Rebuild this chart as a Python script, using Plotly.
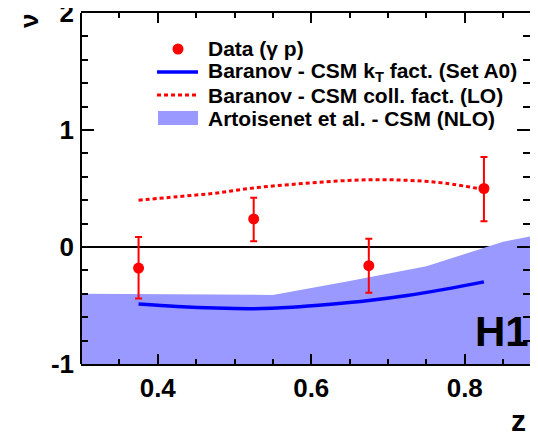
import plotly.graph_objects as go

# ---- data ----
z_data = [0.375, 0.525, 0.675, 0.825]
nu_data = [-0.18, 0.24, -0.16, 0.50]
nu_err_up = [0.265, 0.18, 0.23, 0.27]
nu_err_dn = [0.26, 0.19, 0.23, 0.28]

z_kt = [0.375, 0.425, 0.475, 0.525, 0.575, 0.625, 0.675, 0.725, 0.775, 0.825]
nu_kt = [-0.487, -0.508, -0.522, -0.527, -0.515, -0.49, -0.458, -0.415, -0.36, -0.298]

z_lo = [0.375, 0.425, 0.475, 0.525, 0.575, 0.625, 0.675, 0.725, 0.775, 0.825]
nu_lo = [0.40, 0.43, 0.46, 0.505, 0.535, 0.56, 0.575, 0.57, 0.545, 0.49]

z_band = [0.3, 0.45, 0.55, 0.65, 0.75, 0.85, 0.9]
nu_band_hi = [-0.40, -0.405, -0.41, -0.29, -0.165, 0.045, 0.11]
nu_band_lo = [-1.0, -1.0, -1.0, -1.0, -1.0, -1.0, -1.0]

x_ticks = [0.4, 0.6, 0.8]
x_ticklabels = ["0.4", "0.6", "0.8"]
y_ticks = [-1, 0, 1, 2]
y_ticklabels = ["-1", "0", "1", "2"]

legend_labels = [
    "Data (γ p)",
    "Baranov - CSM k<sub>T</sub> fact. (Set A0)",
    "Baranov - CSM coll. fact. (LO)",
    "Artoisenet et al. - CSM (NLO)",
]

# ---- styles ----
OFF = 8  # page body margin offset
W, H = 538 - 2 * OFF, 439 - 2 * OFF
ML, MR, MT, MB = 81 - OFF, 0, 13 - OFF, 75 - OFF
PW, PH = W - ML - MR, H - MT - MB
FONT = "Liberation Sans, Arial, Helvetica, sans-serif"
BAND = "rgb(153,153,255)"
BLUE = "rgb(0,0,255)"
RED = "rgb(255,0,0)"


def px(xs):
    # screen pixel x -> paper
    return (xs - OFF - ML) / PW


def py(ys):
    # screen pixel y -> paper
    return (H - MB - (ys - OFF)) / PH


fig = go.Figure()

fig.add_trace(go.Scatter(x=z_band, y=nu_band_lo, mode="lines",
                         line=dict(width=0, color=BAND), showlegend=False,
                         hoverinfo="skip"))
fig.add_trace(go.Scatter(x=z_band, y=nu_band_hi, mode="lines", fill="tonexty",
                         fillcolor=BAND, line=dict(width=0, color=BAND),
                         showlegend=False))
fig.add_trace(go.Scatter(x=z_kt, y=nu_kt, mode="lines",
                         line=dict(color=BLUE, width=3.5, shape="spline"),
                         showlegend=False))
fig.add_trace(go.Scatter(x=z_lo, y=nu_lo, mode="lines",
                         line=dict(color=RED, width=3, dash="4px,3px", shape="spline"),
                         showlegend=False))
fig.add_trace(go.Scatter(x=z_data, y=nu_data, mode="markers",
                         marker=dict(color=RED, size=11),
                         error_y=dict(type="data", symmetric=False, array=nu_err_up,
                                      arrayminus=nu_err_dn, color=RED, thickness=2,
                                      width=3.5),
                         showlegend=False))

# ---- left frame line (y axis line drawn as shape so right side has ticks only) ----
fig.add_shape(type="line", xref="paper", yref="paper", x0=0, x1=0, y0=0, y1=1,
              line=dict(color="black", width=2), layer="above")

# ---- manual legend ----
lx0, lx1 = 157, 198
rows = [49, 72, 95, 118]
fig.add_shape(type="line", xref="paper", yref="paper", x0=px(lx0), x1=px(lx1),
              y0=py(rows[1]), y1=py(rows[1]), line=dict(color=BLUE, width=3.5))
fig.add_shape(type="line", xref="paper", yref="paper", x0=px(lx0), x1=px(lx1),
              y0=py(rows[2]), y1=py(rows[2]), line=dict(color=RED, width=3, dash="4px,3px"))
fig.add_shape(type="rect", xref="paper", yref="paper", x0=px(lx0 + 1), x1=px(lx1),
              y0=py(rows[3] + 7), y1=py(rows[3] - 7), line=dict(width=0), fillcolor=BAND)
fig.add_shape(type="circle", xref="paper", yref="paper",
              x0=px(178 - 5.5), x1=px(178 + 5.5), y0=py(rows[0] + 5.5), y1=py(rows[0] - 5.5),
              line=dict(width=0), fillcolor=RED)
for r, lab in zip(rows, legend_labels):
    fig.add_annotation(xref="paper", yref="paper", x=px(206), y=py(r), text=lab,
                       showarrow=False, xanchor="left", yanchor="middle",
                       font=dict(family=FONT, size=21, color="black", weight="bold"))

# ---- texts ----
fig.add_annotation(xref="paper", yref="paper", x=px(502), y=py(331), text="H1",
                   showarrow=False, xanchor="center", yanchor="middle",
                   font=dict(family=FONT, size=42, color="black", weight="bold"))
fig.add_annotation(xref="paper", yref="paper", x=px(29), y=py(21), text="ν",
                   showarrow=False, textangle=-90, xanchor="center", yanchor="middle",
                   font=dict(family=FONT, size=26, color="black", weight="bold"))
fig.add_annotation(xref="paper", yref="paper", x=px(528), y=py(420), text="z",
                   showarrow=False, xanchor="right", yanchor="middle",
                   font=dict(family=FONT, size=30, color="black", weight="bold"))

tickfont = dict(family=FONT, size=26, color="black", weight="bold")

fig.update_xaxes(range=[0.3, 0.3 + PW / 767.5], tickvals=x_ticks, ticktext=x_ticklabels,
                 showline=True, linecolor="black", linewidth=2, mirror="ticks",
                 ticks="inside", tickcolor="black", tickwidth=2, ticklen=10,
                 showgrid=False, zeroline=False, automargin=False,
                 ticklabeloverflow="allow", ticklabelstandoff=0, tickfont=tickfont,
                 minor=dict(ticks="inside", dtick=0.05, tick0=0, ticklen=5,
                            tickcolor="black", tickwidth=2))
fig.update_yaxes(range=[-1, 2], tickvals=y_ticks, ticktext=y_ticklabels,
                 showline=False, mirror="ticks",
                 ticks="inside", tickcolor="black", tickwidth=2, ticklen=13,
                 showgrid=False, zeroline=True, zerolinecolor="black", zerolinewidth=1.5,
                 automargin=False, ticklabeloverflow="allow", ticklabelstandoff=6,
                 tickfont=tickfont,
                 minor=dict(ticks="inside", dtick=0.2, tick0=0, ticklen=7,
                            tickcolor="black", tickwidth=2))

fig.update_layout(width=W, height=H, margin=dict(l=ML, r=MR, t=MT, b=MB, pad=0, autoexpand=False),
                  plot_bgcolor="white", paper_bgcolor="white", showlegend=False)

fig.write_html("out.html")
